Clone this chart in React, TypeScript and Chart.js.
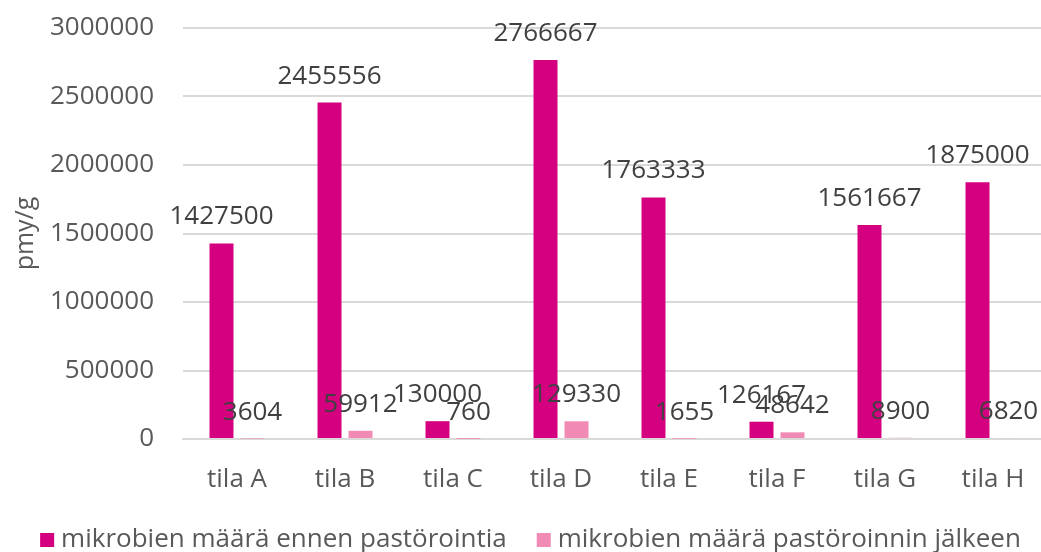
import React, { useEffect, useRef } from "react";
import { Chart, registerables } from "chart.js";

Chart.register(...registerables);

const categories = ["tila A", "tila B", "tila C", "tila D", "tila E", "tila F", "tila G", "tila H"];
const beforeLabel = "mikrobien määrä ennen pastörointia";
const afterLabel = "mikrobien määrä pastöroinnin jälkeen";
const beforeValues = [1427500, 2455556, 130000, 2766667, 1763333, 126167, 1561667, 1875000];
const afterValues = [3604, 59912, 760, 129330, 1655, 48642, 8900, 6820];
const yTitle = "pmy/g";
const yMax = 3000000;
const yStep = 500000;

const FONT = "'Open Sans', 'Noto Sans', sans-serif";
const TEXT = "#595959";
const LABEL = "#404040";
const GRID = "#d9d9d9";
const BEFORE_COLOR = "#D5007F";
const AFTER_COLOR = "#F18BB6";

// Value labels drawn above every bar
const valueLabels = {
  id: "valueLabels",
  afterDatasetsDraw(chart: any) {
    const ctx = chart.ctx;
    ctx.save();
    ctx.font = `26px ${FONT}`;
    ctx.fillStyle = LABEL;
    ctx.textAlign = "center";
    ctx.textBaseline = "alphabetic";
    chart.data.datasets.forEach((ds: any, di: number) => {
      const meta = chart.getDatasetMeta(di);
      meta.data.forEach((el: any, i: number) => {
        ctx.fillText(String(ds.data[i]), el.x, el.y - 19);
      });
    });
    ctx.restore();
  },
};

// Legend row under the x axis: square swatch followed by the series name
const bottomLegend = {
  id: "bottomLegend",
  afterDraw(chart: any) {
    const ctx = chart.ctx;
    const box = 14;
    const boxGap = 7;
    const itemGap = 30;
    const cy = 540;
    ctx.save();
    ctx.font = `26px ${FONT}`;
    ctx.textBaseline = "middle";
    ctx.textAlign = "left";
    const items = chart.data.datasets.map((ds: any) => ({
      text: ds.label,
      color: ds.backgroundColor,
      w: ctx.measureText(ds.label).width,
    }));
    const total =
      items.reduce((s: number, it: any) => s + box + boxGap + it.w, 0) + itemGap * (items.length - 1);
    let x = 530.5 - total / 2;
    items.forEach((it: any) => {
      ctx.fillStyle = it.color;
      ctx.fillRect(x, cy - box / 2, box, box);
      x += box + boxGap;
      ctx.fillStyle = TEXT;
      ctx.fillText(it.text, x, cy);
      x += it.w + itemGap;
    });
    ctx.restore();
  },
};

export default function App() {
  const ref = useRef<HTMLCanvasElement | null>(null);

  useEffect(() => {
    if (!ref.current) return;
    const chart = new Chart(ref.current, {
      type: "bar",
      data: {
        labels: categories,
        datasets: [
          {
            label: beforeLabel,
            data: beforeValues,
            backgroundColor: BEFORE_COLOR,
            barPercentage: 0.774,
            categoryPercentage: 0.574,
          },
          {
            label: afterLabel,
            data: afterValues,
            backgroundColor: AFTER_COLOR,
            barPercentage: 0.774,
            categoryPercentage: 0.574,
          },
        ],
      },
      options: {
        responsive: false,
        animation: false,
        devicePixelRatio: 1,
        layout: { padding: { top: 28, right: 13, left: 0, bottom: 52 } },
        plugins: {
          legend: { display: false },
          tooltip: { enabled: false },
        },
        scales: {
          x: {
            grid: { display: false, drawTicks: false },
            border: { color: GRID, width: 2 },
            ticks: { color: TEXT, font: { family: FONT, size: 26 }, padding: 25 },
            afterFit(scale: any) {
              scale.height = 61;
            },
          },
          y: {
            min: 0,
            max: yMax,
            ticks: {
              stepSize: yStep,
              color: TEXT,
              font: { family: FONT, size: 26 },
              padding: 0,
              callback: (v: any) => String(v),
            },
            grid: {
              color: GRID,
              lineWidth: 2,
              drawTicks: true,
              tickLength: 29,
              tickColor: "rgba(0,0,0,0)",
            },
            border: { display: false },
            title: {
              display: true,
              text: yTitle,
              color: TEXT,
              font: { family: FONT, size: 25 },
              padding: { top: 11, bottom: 0 },
            },
            afterFit(scale: any) {
              scale.width = 183;
            },
          },
        },
      },
      plugins: [valueLabels, bottomLegend],
    });
    return () => chart.destroy();
  }, []);

  return (
    <div
      style={{
        position: "fixed",
        left: 0,
        top: 0,
        width: 1041,
        height: 552,
        overflow: "hidden",
        background: "#fff",
      }}
    >
      <canvas ref={ref} width={1060} height={552} style={{ display: "block" }} />
    </div>
  );
}
